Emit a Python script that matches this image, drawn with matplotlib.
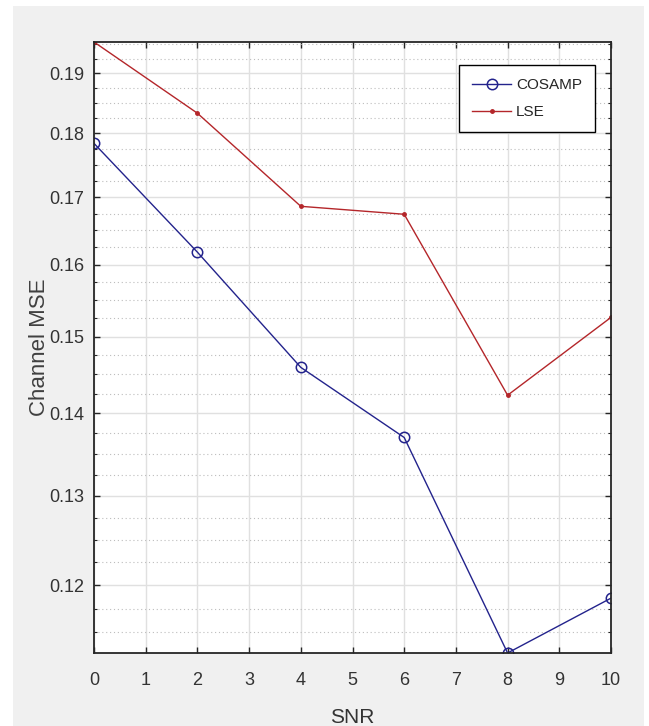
import numpy as np
import matplotlib.pyplot as plt
from matplotlib.patches import Rectangle
from matplotlib.ticker import FixedLocator, NullFormatter

# data (semilogy plot)
snr = [0, 2, 4, 6, 8, 10]
mse_cosamp = [0.1784, 0.1618, 0.1459, 0.1370, 0.1129, 0.1186]
mse_lse = [0.1954, 0.1833, 0.1686, 0.1674, 0.1423, 0.1526]

x_ticks = list(range(0, 11))
y_ticks = [0.12, 0.13, 0.14, 0.15, 0.16, 0.17, 0.18, 0.19]
y_tick_labels = ["0.12", "0.13", "0.14", "0.15", "0.16", "0.17", "0.18", "0.19"]

plt.rcParams["font.family"] = ["Liberation Sans", "DejaVu Sans"]

fig = plt.figure(figsize=(6.49, 7.26), dpi=100, facecolor="white")
# grey matlab figure panel
fig.patches.append(Rectangle((13 / 649, 0), (644 - 13) / 649, 1 - 6 / 726,
                             transform=fig.transFigure, facecolor="#f0f0f0",
                             edgecolor="none", zorder=-10))

ax = fig.add_axes([94 / 649, 1 - 653 / 726, (611 - 94) / 649, (653 - 42) / 726])
ax.set_facecolor("white")

ax.plot(snr, mse_cosamp, color="#23238c", ls="-", marker="o", lw=1.0, ms=7.5,
        mfc="none", mew=1.1, label="COSAMP")
ax.plot(snr, mse_lse, color="#b4262a", ls="-", marker=".", lw=1.0, ms=5,
        label="LSE")

ax.set_yscale("log")
ax.set_xlim(0, 10)
ax.set_ylim(min(mse_cosamp + mse_lse), max(mse_cosamp + mse_lse))

ax.xaxis.set_major_locator(FixedLocator(x_ticks))
ax.yaxis.set_major_locator(FixedLocator(y_ticks))
ax.set_yticklabels(y_tick_labels)
minor = [v for v in np.arange(0.1125, 0.1951, 0.0025)
         if min(abs(v - t) for t in y_ticks) > 1e-6]
ax.yaxis.set_minor_locator(FixedLocator(minor))
ax.yaxis.set_minor_formatter(NullFormatter())
ax.xaxis.set_minor_locator(FixedLocator([]))

ax.grid(True, which="major", color="#e0e0e0", lw=1.0, ls="-")
ax.grid(True, which="minor", axis="y", color="#bdbdbd", lw=0.8, ls=(0, (1, 2.5)))
ax.set_axisbelow(True)

ax.tick_params(which="both", direction="in", top=True, right=True,
               color="#262626", labelcolor="#333333")
ax.tick_params(which="major", length=4, width=1.0, labelsize=13)
ax.tick_params(which="minor", length=2.5, width=0.8)
ax.tick_params(axis="x", pad=14)
ax.tick_params(axis="y", pad=7)
for s in ax.spines.values():
    s.set_color("#262626")
    s.set_linewidth(1.3)

ax.set_xlabel("SNR", fontsize=15, color="#333333")
ax.xaxis.set_label_coords(0.5, -0.09)
ax.set_ylabel("Channel MSE", fontsize=16, color="#404040")
ax.yaxis.set_label_coords(-0.085, 0.5)

leg = ax.legend(loc="upper right", bbox_to_anchor=(0.969, 0.962), borderaxespad=0,
                fontsize=11, fancybox=False, edgecolor="black", framealpha=1,
                handlelength=2.6, handletextpad=0.3, labelspacing=0.85,
                borderpad=0.85)
leg.get_frame().set_linewidth(1.0)
for t in leg.get_texts():
    t.set_color("#262626")

fig.savefig("out.png", dpi=100, facecolor=fig.get_facecolor())
